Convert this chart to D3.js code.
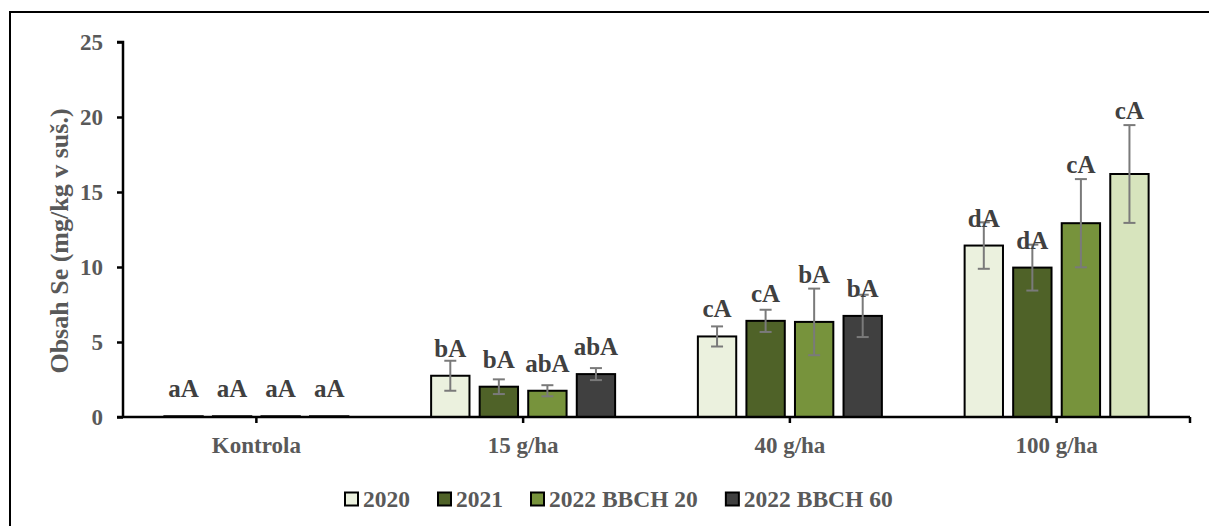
<!DOCTYPE html>
<html>
<head>
<meta charset="utf-8">
<script src="https://cdn.jsdelivr.net/npm/d3@7/dist/d3.min.js"></script>
<style>
  html, body { margin: 0; padding: 0; background: #fff; }
  svg { display: block; }
  text { font-family: "Liberation Serif", "Times New Roman", serif; font-weight: bold; }
</style>
</head>
<body>
<svg id="chart" width="1209" height="526"></svg>
<script>
// ---- data ----
const categories = ["Kontrola", "15 g/ha", "40 g/ha", "100 g/ha"];
const seriesNames = ["2020", "2021", "2022 BBCH 20", "2022 BBCH 60"];
const values2020 = [0.05, 2.75, 5.37, 11.43];
const values2021 = [0.05, 2.02, 6.41, 9.96];
const values2022a = [0.05, 1.75, 6.34, 12.92];
const values2022b = [0.05, 2.86, 6.74, 16.20];
const sd2020 = [0, 1.00, 0.67, 1.55];
const sd2021 = [0, 0.49, 0.74, 1.53];
const sd2022a = [0, 0.37, 2.22, 2.94];
const sd2022b = [0, 0.40, 1.41, 3.26];
const labels2020 = ["aA", "bA", "cA", "dA"];
const labels2021 = ["aA", "bA", "cA", "dA"];
const labels2022a = ["aA", "abA", "bA", "cA"];
const labels2022b = ["aA", "abA", "bA", "cA"];
const yTicks = [0, 5, 10, 15, 20, 25];
const yTitle = "Obsah Se (mg/kg v suš.)";

// ---- styles ----
const seriesColors = ["#ebf1de", "#4f6228", "#77933c", "#404040"];
// the last bar of the 100 g/ha group is drawn in a different fill in the original
const pointColorOverride = { "100 g/ha|2022 BBCH 60": "#d7e4bd" };

const allValues = [values2020, values2021, values2022a, values2022b];
const allSd = [sd2020, sd2021, sd2022a, sd2022b];
const allLabels = [labels2020, labels2021, labels2022a, labels2022b];

const rows = [];
categories.forEach((c, ci) => {
  seriesNames.forEach((s, si) => {
    rows.push({ cat: c, series: s, si, value: allValues[si][ci], sd: allSd[si][ci], label: allLabels[si][ci] });
  });
});

const svg = d3.select("#chart");
const mLeft = 123, mRight = 1190, mTop = 42, mBottom = 417;

const y = d3.scaleLinear().domain([0, 25]).range([mBottom, mTop]);
const x0 = d3.scaleBand().domain(categories).range([mLeft, mRight]).padding(0);
const groupW = 184;
const x1 = d3.scaleBand().domain(seriesNames).range([0, groupW]).paddingInner(0.21).paddingOuter(0);
const groupOffset = (x0.bandwidth() - groupW) / 2;

// outer border
svg.append("rect").attr("x", 10).attr("y", 12).attr("width", 1300).attr("height", 700)
  .attr("fill", "none").attr("stroke", "#000").attr("stroke-width", 2);

// bars
const g = svg.append("g");
g.selectAll("rect.bar").data(rows).join("rect")
  .attr("class", "bar")
  .attr("x", d => x0(d.cat) + groupOffset + x1(d.series))
  .attr("width", x1.bandwidth())
  .attr("y", d => y(d.value))
  .attr("height", d => y(0) - y(d.value))
  .attr("fill", d => pointColorOverride[d.cat + "|" + d.series] || seriesColors[d.si])
  .attr("stroke", "#000").attr("stroke-width", 2);

// error bars
const cx = d => x0(d.cat) + groupOffset + x1(d.series) + x1.bandwidth() / 2;
const eb = g.selectAll("g.err").data(rows.filter(d => d.sd > 0)).join("g").attr("class", "err")
  .attr("stroke", "#7a7a7a").attr("stroke-width", 2);
eb.append("line").attr("x1", cx).attr("x2", cx)
  .attr("y1", d => y(d.value + d.sd)).attr("y2", d => y(d.value - d.sd));
eb.append("line").attr("x1", d => cx(d) - 6).attr("x2", d => cx(d) + 6)
  .attr("y1", d => y(d.value + d.sd)).attr("y2", d => y(d.value + d.sd));
eb.append("line").attr("x1", d => cx(d) - 6).attr("x2", d => cx(d) + 6)
  .attr("y1", d => y(d.value - d.sd)).attr("y2", d => y(d.value - d.sd));

// y axis
const yAxis = svg.append("g").attr("transform", `translate(${mLeft},0)`)
  .call(d3.axisLeft(y).tickValues(yTicks).tickSize(6).tickPadding(14).tickFormat(d3.format("d")));
yAxis.select(".domain").attr("stroke", "#000").attr("stroke-width", 2.5).attr("d", `M-6,${mTop}H0V${mBottom}`);
yAxis.selectAll(".tick line").attr("stroke", "#000").attr("stroke-width", 2.5);
yAxis.selectAll(".tick text").attr("fill", "#595959").attr("font-size", 23)
  .style("font-family", "'Liberation Serif', serif").style("font-weight", "bold");

// x axis
const xAxisG = svg.append("g").attr("transform", `translate(0,${mBottom})`);
xAxisG.append("line").attr("x1", mLeft - 6).attr("x2", mRight).attr("y1", 0).attr("y2", 0)
  .attr("stroke", "#000").attr("stroke-width", 2.5);
xAxisG.selectAll("line.xt").data(categories.map(c => x0(c) + x0.bandwidth() / 2).concat([mRight]))
  .join("line").attr("class", "xt")
  .attr("x1", d => d).attr("x2", d => d).attr("y1", 0).attr("y2", 6)
  .attr("stroke", "#000").attr("stroke-width", 2.5);
xAxisG.selectAll("text.xl").data(categories).join("text").attr("class", "xl")
  .attr("x", d => x0(d) + x0.bandwidth() / 2).attr("y", 36)
  .attr("text-anchor", "middle").attr("fill", "#595959").attr("font-size", 23)
  .text(d => d);

// data labels
g.selectAll("text.dl").data(rows).join("text").attr("class", "dl")
  .attr("x", cx)
  .attr("y", d => d.sd > 2 ? y(d.value + d.sd) - 6 : y(d.value) - 19)
  .attr("text-anchor", "middle").attr("fill", "#404040").attr("font-size", 25)
  .text(d => d.label);

// y title
svg.append("text").attr("transform", "translate(59,241) rotate(-90)")
  .attr("text-anchor", "middle").attr("dy", "0.35em")
  .attr("fill", "#595959").attr("font-size", 26).text(yTitle);

// legend
let lx = 345;
const legend = svg.append("g").attr("transform", "translate(0,499)");
seriesNames.forEach((s, i) => {
  const it = legend.append("g").attr("transform", `translate(${lx},0)`);
  it.append("rect").attr("x", 0).attr("y", -6.5).attr("width", 13).attr("height", 13)
    .attr("fill", seriesColors[i]).attr("stroke", "#000").attr("stroke-width", 2);
  const t = it.append("text").attr("x", 18).attr("y", 0).attr("dy", "0.35em")
    .attr("fill", "#595959").attr("font-size", 23.5).text(s);
  lx += 18 + t.node().getComputedTextLength() + 28;
});
</script>
</body>
</html>
